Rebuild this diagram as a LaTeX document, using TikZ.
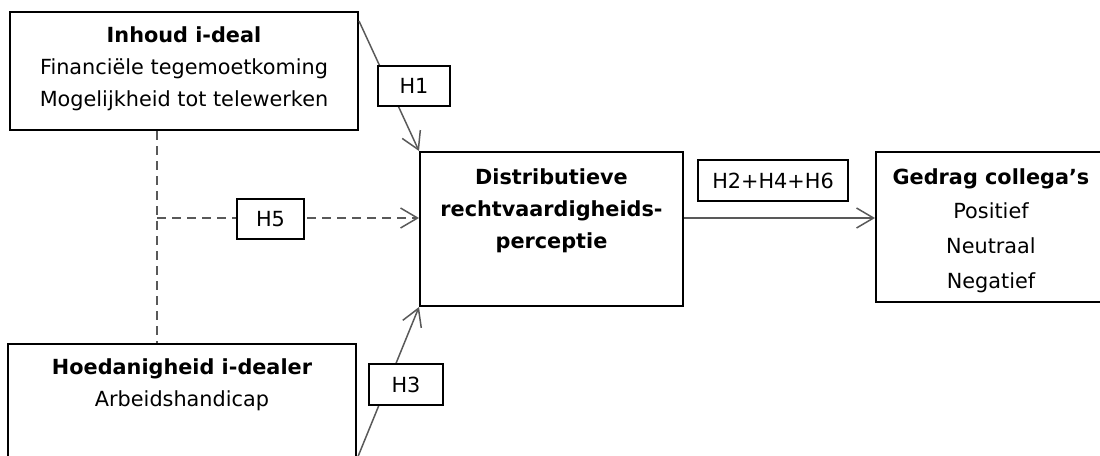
\documentclass[tikz,border=0pt]{standalone}
\usepackage{fontspec}
\setmainfont{DejaVu Sans}
\usetikzlibrary{calc,positioning,arrows.meta}

\definecolor{lijn}{HTML}{595959}

\tikzset{
    kader/.style={draw=black, line width=1pt, fill=white, inner sep=0pt},
    tekst/.style={align=center, inner sep=0pt, font=\fontsize{10.4}{16}\selectfont},
    hlabel/.style={kader, font=\fontsize{10.4}{12}\selectfont},
    verband/.style={draw=lijn, line width=0.75pt},
    pijl/.style={verband, -{Straight Barb[length=8.5pt,width=10pt,line width=0.75pt]}},
    stippel/.style={verband, dash pattern=on 4.5pt off 3pt}
}

\begin{document}
\begin{tikzpicture}
    \newdimen\U\U=0.5pt
    \useasboundingbox (0,0) rectangle (1100\U,-456\U);
    \clip (0,0) rectangle (1100\U,-456\U);

    % kaders
    \node[kader, minimum width=348\U, minimum height=118\U] (inhoud) at (184\U,-71\U) {};
    \node[tekst, below=15\U of inhoud.north] (inhoudtekst)
        {\textbf{Inhoud i-deal}\\Financiële tegemoetkoming\\Mogelijkheid tot telewerken};

    \node[kader, minimum width=348\U, minimum height=114\U] (hoed) at (182\U,-401\U) {};
    \node[tekst, below=15\U of hoed.north] (hoedtekst)
        {\textbf{Hoedanigheid i-dealer}\\Arbeidshandicap};

    \node[kader, minimum width=263\U, minimum height=154\U] (distr) at (551.5\U,-229\U) {};
    \node[tekst, below=17\U of distr.north] (distrtekst)
        {\textbf{Distributieve}\\\textbf{rechtvaardigheids-}\\\textbf{perceptie}};

    \node[kader, minimum width=230\U, minimum height=150\U] (gedrag) at (991\U,-227\U) {};
    \begin{scope}
        \clip (gedrag.north west) rectangle ($(gedrag.south east)+(0,9\U)$);
        \node[tekst, font=\fontsize{10.4}{17.3}\selectfont, below=17\U of gedrag.north] (gedragtekst)
            {\textbf{Gedrag collega’s}\\Positief\\Neutraal\\Negatief};
    \end{scope}

    % verbanden
    \coordinate (knik) at (157\U,-218\U);
    \draw[stippel] (inhoud.south -| knik) -- (hoed.north -| knik);
    \draw[stippel, -{Straight Barb[length=8.5pt,width=10pt,line width=0.75pt]}] (knik) -- (knik -| distr.west);

    \draw[pijl] ($(inhoud.north east)+(0,-10\U)$) -- (distr.north west);
    \draw[pijl] (hoed.south east) -- (distr.south west);

    \coordinate (uit) at ($(distr.east)+(0,11\U)$);
    \draw[pijl] (uit) -- (uit -| gedrag.west);

    % hypothesen
    \node[hlabel, minimum width=72\U, minimum height=40\U] (h1) at (414\U,-86\U) {H1};
    \node[hlabel, minimum width=67\U, minimum height=40\U] (h5) at (270.5\U,-219\U) {H5};
    \node[hlabel, minimum width=74\U, minimum height=41\U] (h3) at (406\U,-384.5\U) {H3};
    \node[hlabel, minimum width=150\U, minimum height=41\U] (h246) at (773\U,-180.5\U) {H2+H4+H6};
\end{tikzpicture}
\end{document}
